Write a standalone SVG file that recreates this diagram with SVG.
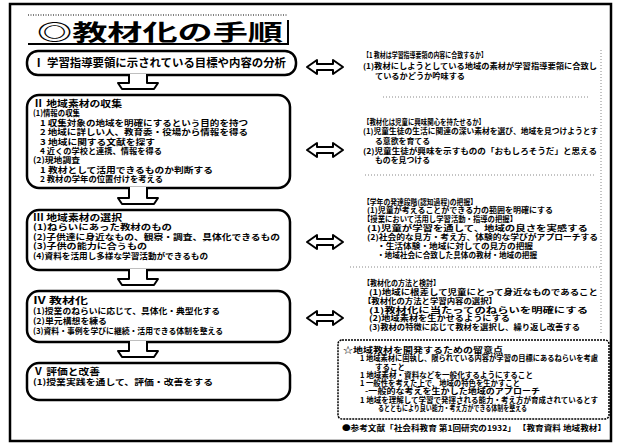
<svg xmlns="http://www.w3.org/2000/svg" width="622" height="445" viewBox="0 0 622 445">
<style>
text{font-family:"Noto Sans CJK JP","Noto Sans",sans-serif;font-weight:700;fill:#000}
.b{font-size:8px}
.h{font-size:9.5px}
.r{font-size:7.5px}
.box{fill:#fff;stroke:#000;stroke-width:2.5}
.arr{fill:#fff;stroke:#000;stroke-width:2;stroke-linejoin:round}
.sep{stroke:#888;stroke-width:1;stroke-dasharray:1 2;fill:none}
</style>
<defs>
<path id="dbl" d="M0,0 L10,-7 V-3 H26 V-7 L36,0 L26,7 V3 H10 V7 Z"/>
</defs>
<rect width="622" height="445" fill="#fff"/>
<rect x="10" y="4" width="601" height="437" fill="none" stroke="#000" stroke-width="2.5"/>

<g id="title">
<line x1="28" y1="15" x2="288" y2="15" stroke="#000" stroke-width="1" stroke-dasharray="1 1.5"/>
<text x="37" y="40" font-size="22" textLength="246" lengthAdjust="spacingAndGlyphs">◎教材化の手順</text>
<line x1="28" y1="44" x2="289" y2="44" stroke="#000" stroke-width="2"/>
<line x1="288" y1="20" x2="288" y2="44" stroke="#000" stroke-width="2"/>
</g>

<g id="step1">
<rect class="box" x="27" y="51" width="269" height="24" rx="11"/>
<text x="33" y="67" font-size="11" textLength="253" lengthAdjust="spacingAndGlyphs">Ⅰ 学習指導要領に示されている目標や内容の分析</text>
</g>

<g id="step2">
<rect class="box" x="27" y="95" width="263" height="93" rx="12"/>
<text class="h" x="33" y="107.4" textLength="89" lengthAdjust="spacingAndGlyphs">Ⅱ 地域素材の収集</text>
<text class="b" x="33" y="116.3" textLength="47" lengthAdjust="spacingAndGlyphs">(1)情報の収集</text>
<text class="b" x="40" y="125.7" textLength="208" lengthAdjust="spacingAndGlyphs">1 収集対象の地域を明確にするという目的を持つ</text>
<text class="b" x="40" y="135.1" textLength="208" lengthAdjust="spacingAndGlyphs">2 地域に詳しい人、教育委・役場から情報を得る</text>
<text class="b" x="40" y="144.5" textLength="115" lengthAdjust="spacingAndGlyphs">3 地域に関する文献を探す</text>
<text class="b" x="40" y="153.9" textLength="122" lengthAdjust="spacingAndGlyphs">4 近くの学校と連携、情報を得る</text>
<text class="b" x="33" y="163.3" textLength="47" lengthAdjust="spacingAndGlyphs">(2)現地調査</text>
<text class="b" x="40" y="172.7" textLength="173" lengthAdjust="spacingAndGlyphs">1 教材として活用できるものか判断する</text>
<text class="b" x="40" y="182.1" textLength="123" lengthAdjust="spacingAndGlyphs">2 教材の学年の位置付けを考える</text>
</g>

<g id="step3">
<rect class="box" x="27" y="210" width="263" height="60" rx="12"/>
<text class="h" x="33" y="221.4" textLength="89" lengthAdjust="spacingAndGlyphs">Ⅲ 地域素材の選択</text>
<text class="b" x="33" y="230.4" textLength="139" lengthAdjust="spacingAndGlyphs">(1)ねらいにあった教材のもの</text>
<text class="b" x="33" y="239.9" textLength="247" lengthAdjust="spacingAndGlyphs">(2)子供達に身近なもの、観察・調査、具体化できるもの</text>
<text class="b" x="33" y="249.4" textLength="114" lengthAdjust="spacingAndGlyphs">(3)子供の能力に合うもの</text>
<text class="b" x="33" y="258.9" textLength="175" lengthAdjust="spacingAndGlyphs">(4)資料を活用し多様な学習活動ができるもの</text>
</g>

<g id="step4">
<rect class="box" x="27" y="291" width="263" height="51" rx="12"/>
<text class="h" x="33" y="304.4" textLength="55" lengthAdjust="spacingAndGlyphs">Ⅳ 教材化</text>
<text class="b" x="33" y="313.9" textLength="187" lengthAdjust="spacingAndGlyphs">(1)授業のねらいに応じて、具体化・典型化する</text>
<text class="b" x="33" y="323.9" textLength="74" lengthAdjust="spacingAndGlyphs">(2)単元構想を練る</text>
<text class="b" x="33" y="333.9" textLength="190" lengthAdjust="spacingAndGlyphs">(3)資料・事例を学びに継続・活用できる体制を整える</text>
</g>

<g id="step5">
<rect class="box" x="27" y="363" width="263" height="37" rx="12"/>
<text class="h" x="33" y="375.4" textLength="67" lengthAdjust="spacingAndGlyphs">Ⅴ 評価と改善</text>
<text class="b" x="33" y="384.9" textLength="180" lengthAdjust="spacingAndGlyphs">(1)授業実践を通して、評価・改善をする</text>
</g>

<g id="note1">
<text class="r" x="363" y="57.7" textLength="124" lengthAdjust="spacingAndGlyphs">【1 教材は学習指導要領の内容に合致するか】</text>
<text class="r" x="363" y="68.7" textLength="234" lengthAdjust="spacingAndGlyphs">(1)教材にしようとしている地域の素材が学習指導要領に合致し</text>
<text class="r" x="375" y="78.7" textLength="90" lengthAdjust="spacingAndGlyphs">ているかどうか吟味する</text>
</g>

<g id="note2">
<text class="r" x="363" y="124.7" textLength="122" lengthAdjust="spacingAndGlyphs">【教材化は児童に興味関心を持たせるか】</text>
<text class="r" x="363" y="133.7" textLength="235" lengthAdjust="spacingAndGlyphs">(1)児童生徒の生活に関連の深い素材を選び、地域を見つけようとす</text>
<text class="r" x="375" y="143.7" textLength="55" lengthAdjust="spacingAndGlyphs">る意欲を育てる</text>
<text class="r" x="363" y="153.7" textLength="234" lengthAdjust="spacingAndGlyphs">(2)児童生徒が興味を示すものの「おもしろそうだ」と思える</text>
<text class="r" x="375" y="162.7" textLength="55" lengthAdjust="spacingAndGlyphs">ものを見つける</text>
</g>

<g id="note3">
<text class="r" x="363" y="204.7" textLength="114" lengthAdjust="spacingAndGlyphs">【学年の発達段階(認知過程)の把握】</text>
<text class="r" x="367" y="213.2" textLength="186" lengthAdjust="spacingAndGlyphs">(1)児童が考えることができる力の範囲を明確にする</text>
<text class="r" x="363" y="221.7" textLength="154" lengthAdjust="spacingAndGlyphs">【授業において活用し学習活動・指導の把握】</text>
<text class="r" x="367" y="230.7" textLength="221" lengthAdjust="spacingAndGlyphs">(1)児童が学習を通して、地域の良さを実感する</text>
<text class="r" x="367" y="239.7" textLength="231" lengthAdjust="spacingAndGlyphs">(2)社会的な見方・考え方、体験的な学びがアプローチする</text>
<text class="r" x="377" y="248.7" textLength="156" lengthAdjust="spacingAndGlyphs">・生活体験・地域に対しての見方の把握</text>
<text class="r" x="377" y="257.7" textLength="160" lengthAdjust="spacingAndGlyphs">・地域社会に合致した具体の教材・地域の把握</text>
</g>

<g id="note4">
<text class="r" x="363" y="285.7" textLength="77" lengthAdjust="spacingAndGlyphs">【教材化の方法と検討】</text>
<text class="r" x="369" y="294.7" textLength="229" lengthAdjust="spacingAndGlyphs">(1)地域に根差して児童にとって身近なものであること</text>
<text class="r" x="363" y="303.7" textLength="134" lengthAdjust="spacingAndGlyphs">【教材化の方法と学習内容の選択】</text>
<text class="r" x="369" y="312.7" textLength="219" lengthAdjust="spacingAndGlyphs">(1)教材化に当たってのねらいを明確にする</text>
<text class="r" x="369" y="321.2" textLength="141" lengthAdjust="spacingAndGlyphs">(2)地域素材を生かせるようにする</text>
<text class="r" x="369" y="329.7" textLength="211" lengthAdjust="spacingAndGlyphs">(3)教材の特徴に応じて教材を選択し、繰り返し改善する</text>
</g>

<g id="points">
<rect x="338" y="340" width="271" height="79" rx="4" fill="none" stroke="#000" stroke-width="1.5" stroke-dasharray="2 1"/>
<text class="r" x="343" y="352.7" textLength="160" lengthAdjust="spacingAndGlyphs">☆地域教材を開発するための留意点</text>
<text class="r" x="360" y="361.2" textLength="238" lengthAdjust="spacingAndGlyphs">1 地域素材に固執し、限られている内容が学習の目標にあるねらいを考慮</text>
<text class="r" x="375" y="369.7" textLength="30" lengthAdjust="spacingAndGlyphs">すること</text>
<text class="r" x="360" y="377.7" textLength="173" lengthAdjust="spacingAndGlyphs">1 地域素材・資料などを一般化するようにすること</text>
<text class="r" x="360" y="385.7" textLength="160" lengthAdjust="spacingAndGlyphs">1 一般性を考えた上で、地域の特色を生かすこと</text>
<text class="r" x="365" y="393.7" textLength="175" lengthAdjust="spacingAndGlyphs">-一般的な考えを生かした地域のアプローチ</text>
<text class="r" x="360" y="402.7" textLength="238" lengthAdjust="spacingAndGlyphs">1 地域を理解して学習で発揮される能力・考え方が育成されているとす</text>
<text class="r" x="378" y="410.7" textLength="149" lengthAdjust="spacingAndGlyphs">るとともにより良い能力・考え方ができる体制を整える</text>
</g>

<g id="footer">
<text class="r" x="342" y="430.7" textLength="264" lengthAdjust="spacingAndGlyphs">●参考文献「社会科教育 第1回研究の1932」 【教育資料 地域教材】</text>
</g>

<g id="separators">
<line class="sep" x1="383" y1="97" x2="590" y2="97"/>
<line class="sep" x1="365" y1="175" x2="595" y2="175"/>
<line class="sep" x1="350" y1="267" x2="600" y2="267"/>
<line class="sep" x1="601" y1="50" x2="601" y2="335"/>
</g>

<g id="connectors">
<path class="arr" d="M129,74 V83 H118 L122,89 H154 L158,83 H147 V74"/>
<path class="arr" d="M129,187 V198 H118 L122,204 H154 L158,198 H147 V187"/>
<path class="arr" d="M129,269 V279 H118 L122,285 H154 L158,279 H147 V269"/>
<path class="arr" d="M129,341 V351 H118 L122,357 H154 L158,351 H147 V341"/>
<use href="#dbl" x="307" y="67" class="arr"/>
<use href="#dbl" x="307" y="150" class="arr"/>
<use href="#dbl" x="307" y="242" class="arr"/>
<use href="#dbl" x="307" y="318" class="arr"/>
</g>
</svg>
